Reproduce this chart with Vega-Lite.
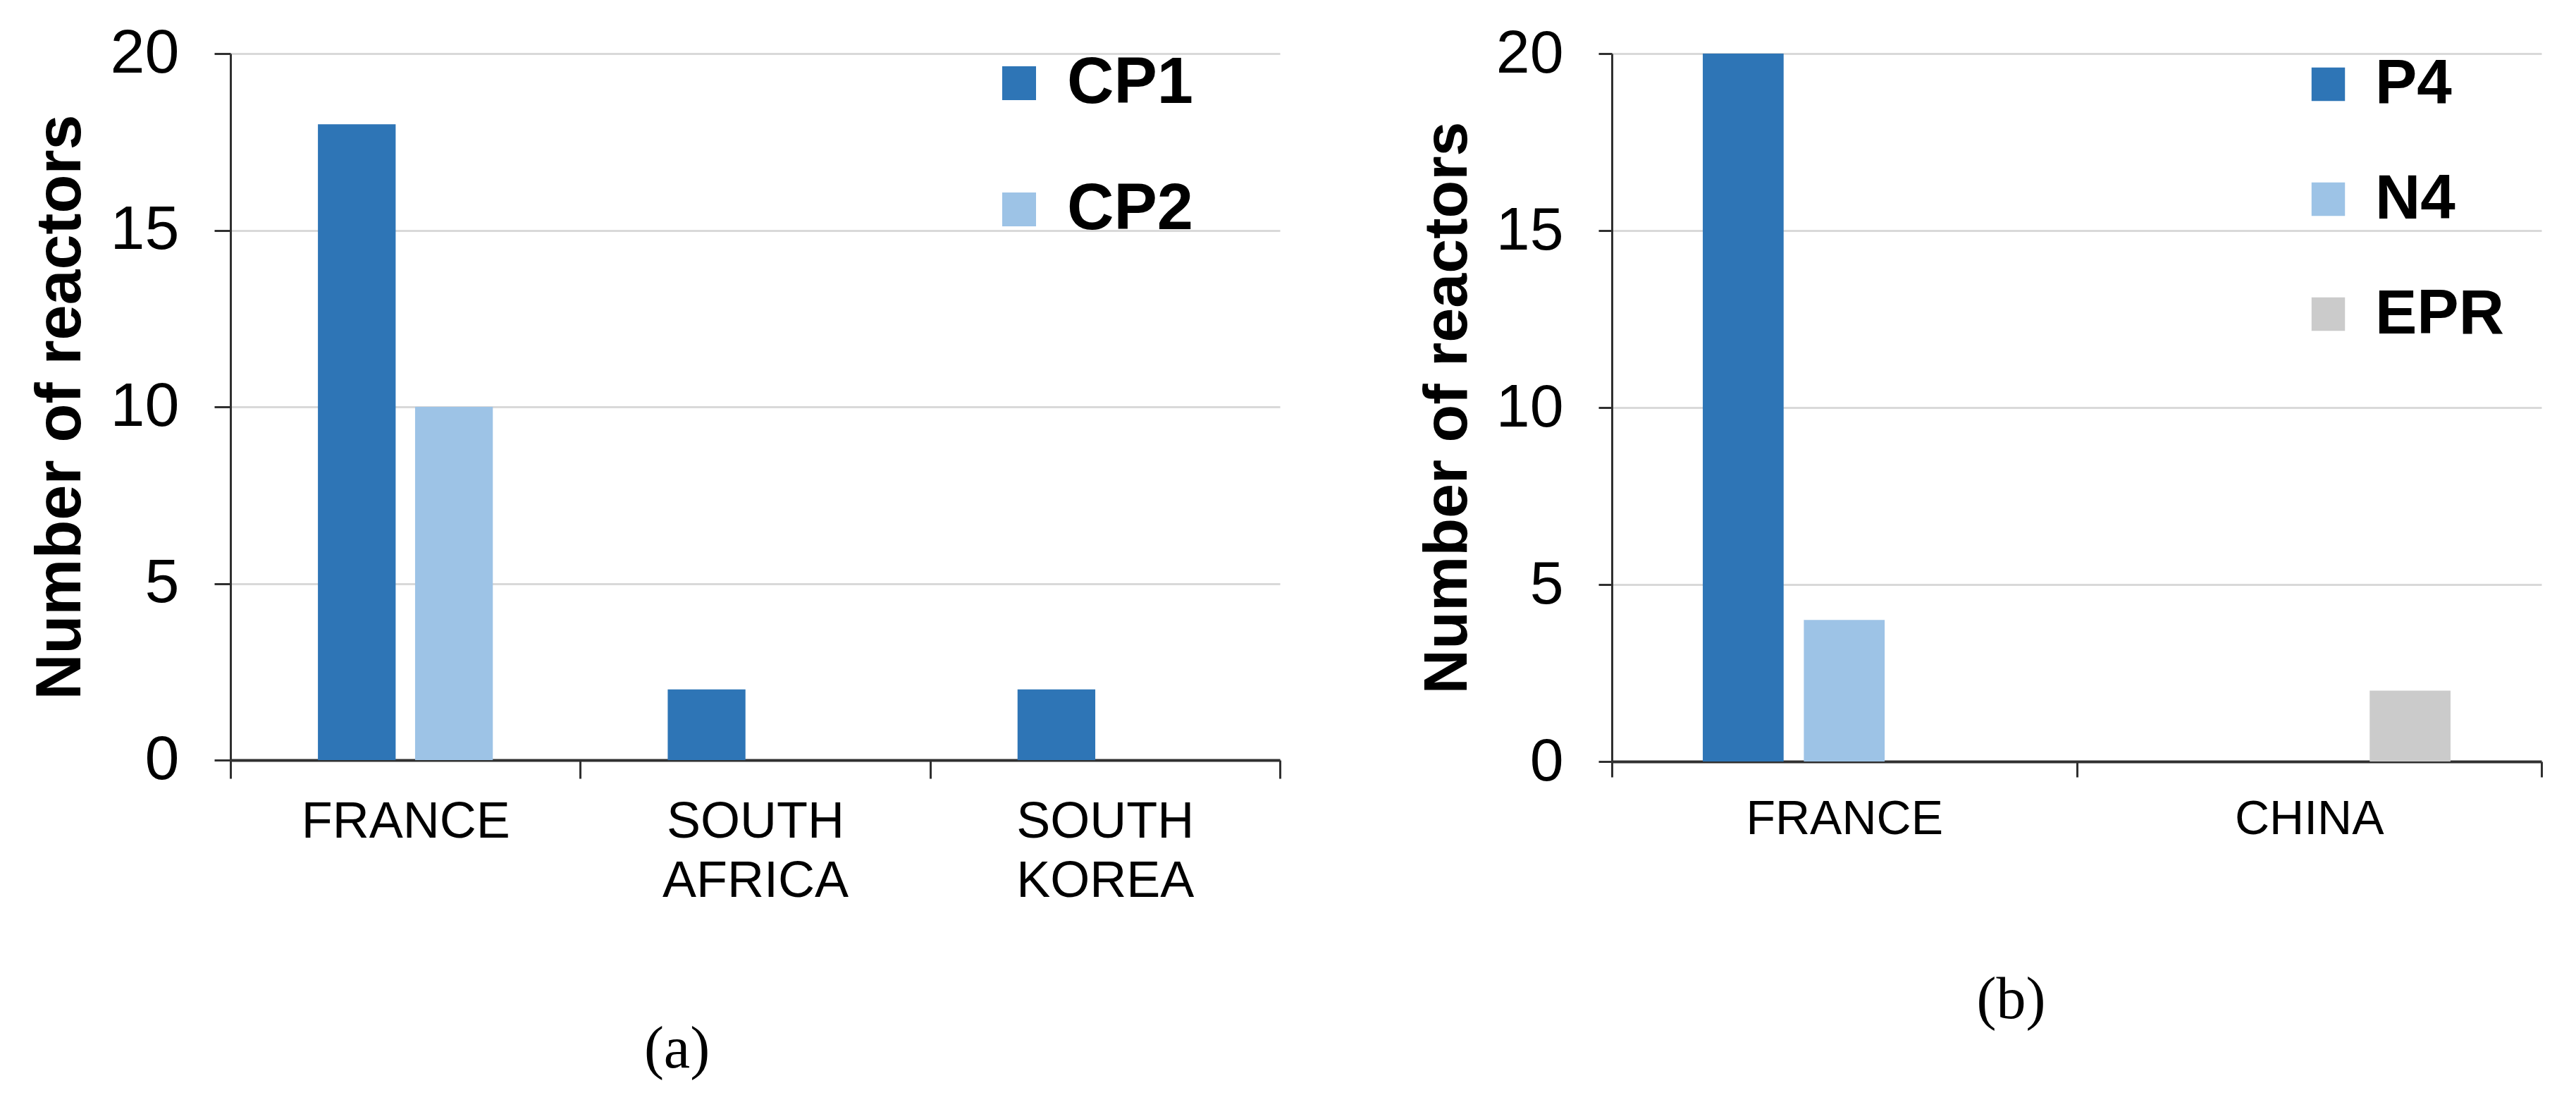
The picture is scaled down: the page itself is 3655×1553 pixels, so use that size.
{
  "$schema": "https://vega.github.io/schema/vega-lite/v6.json",
  "background": "white",
  "padding": {"left": 41, "top": 32, "right": 40, "bottom": 10},
  "spacing": 192,
  "config": {
    "view": {"stroke": null},
    "axis": {"labelLimit": 1000, "titleLimit": 2000, "labelColor": "black", "titleColor": "black", "tickColor": "#303030", "domainColor": "#303030"}
  },
  "hconcat": [
    {
      "width": 1489,
      "height": 1002,
      "data": {"values": [
        {"country": "FRANCE", "model": "CP1", "reactors": 18},
        {"country": "FRANCE", "model": "CP2", "reactors": 10},
        {"country": "SOUTH AFRICA", "model": "CP1", "reactors": 2},
        {"country": "SOUTH KOREA", "model": "CP1", "reactors": 2}
      ]},
      "mark": {"type": "bar"},
      "encoding": {
        "x": {
          "field": "country", "type": "nominal",
          "sort": ["FRANCE", "SOUTH AFRICA", "SOUTH KOREA"],
          "scale": {"domain": ["FRANCE", "SOUTH AFRICA", "SOUTH KOREA"], "paddingInner": 0, "paddingOuter": 0},
          "axis": {
            "title": "(a)", "titleFont": "Liberation Serif", "titleFontSize": 84, "titleFontWeight": "normal",
            "titleX": 633, "titleY": 410, "titleBaseline": "middle", "titleAlign": "center", "titleAngle": 0,
            "labelAngle": 0, "labelFont": "Liberation Sans", "labelFontSize": 72, "labelPadding": 26, "labelLineHeight": 84,
            "labelExpr": "split(datum.label, ' ')",
            "tickSize": 26, "tickWidth": 3, "tickBand": "extent",
            "domainWidth": 4, "grid": false
          }
        },
        "xOffset": {"field": "model", "type": "nominal", "sort": ["CP1", "CP2"], "scale": {"domain": ["CP1", "CP2"], "paddingInner": 0.2, "paddingOuter": 0.9}},
        "y": {
          "field": "reactors", "type": "quantitative",
          "scale": {"domain": [0, 20], "nice": false},
          "axis": {
            "title": "Number of reactors", "titleFont": "Liberation Sans", "titleFontWeight": "bold", "titleFontSize": 90, "titlePadding": 24,
            "values": [0, 5, 10, 15, 20], "labelFont": "Liberation Sans", "labelFontSize": 88, "labelPadding": 50, "labelFlush": false,
            "tickSize": 23, "tickWidth": 3, "domainWidth": 3,
            "grid": true, "gridColor": "#D9D9D9", "gridWidth": 3
          }
        },
        "color": {
          "field": "model", "type": "nominal",
          "scale": {"domain": ["CP1", "CP2"], "range": ["#2E75B6", "#9DC3E6"]},
          "legend": {
            "orient": "none", "legendX": 1073, "legendY": -4, "title": null, "padding": 0,
            "symbolType": "square", "symbolSize": 2304, "symbolStrokeWidth": 0, "symbolOpacity": 1,
            "labelFont": "Liberation Sans", "labelFontWeight": "bold", "labelFontSize": 92, "labelColor": "black",
            "labelOffset": 22, "labelLimit": 500, "rowPadding": 87
          }
        }
      }
    },
    {
      "width": 1319,
      "height": 1004,
      "data": {"values": [
        {"country": "FRANCE", "model": "P4", "reactors": 20},
        {"country": "FRANCE", "model": "N4", "reactors": 4},
        {"country": "CHINA", "model": "EPR", "reactors": 2}
      ]},
      "mark": {"type": "bar"},
      "encoding": {
        "x": {
          "field": "country", "type": "nominal",
          "sort": ["FRANCE", "CHINA"],
          "scale": {"domain": ["FRANCE", "CHINA"], "paddingInner": 0, "paddingOuter": 0},
          "axis": {
            "title": "(b)", "titleFont": "Liberation Serif", "titleFontSize": 84, "titleFontWeight": "normal",
            "titleX": 566, "titleY": 338, "titleBaseline": "middle", "titleAlign": "center", "titleAngle": 0,
            "labelAngle": 0, "labelFont": "Liberation Sans", "labelFontSize": 68, "labelPadding": 26,
            "tickSize": 22, "tickWidth": 3, "tickBand": "extent",
            "domainWidth": 4, "grid": false
          }
        },
        "xOffset": {"field": "model", "type": "nominal", "sort": ["P4", "N4", "EPR"], "scale": {"domain": ["P4", "N4", "EPR"], "paddingInner": 0.2, "paddingOuter": 0.9}},
        "y": {
          "field": "reactors", "type": "quantitative",
          "scale": {"domain": [0, 20], "nice": false},
          "axis": {
            "title": "Number of reactors", "titleFont": "Liberation Sans", "titleFontWeight": "bold", "titleFontSize": 88, "titlePadding": 24,
            "values": [0, 5, 10, 15, 20], "labelFont": "Liberation Sans", "labelFontSize": 86, "labelPadding": 50, "labelFlush": false,
            "tickSize": 19, "tickWidth": 3, "domainWidth": 3,
            "grid": true, "gridColor": "#D9D9D9", "gridWidth": 3
          }
        },
        "color": {
          "field": "model", "type": "nominal",
          "scale": {"domain": ["P4", "N4", "EPR"], "range": ["#2E75B6", "#9DC3E6", "#CBCBCB"]},
          "legend": {
            "orient": "none", "legendX": 972, "legendY": -1, "title": null, "padding": 0,
            "symbolType": "square", "symbolSize": 2250, "symbolStrokeWidth": 0, "symbolOpacity": 1,
            "labelFont": "Liberation Sans", "labelFontWeight": "bold", "labelFontSize": 89, "labelColor": "black",
            "labelOffset": 22, "labelLimit": 500, "rowPadding": 73
          }
        }
      }
    }
  ],
  "resolve": {
    "scale": {"color": "independent", "x": "independent", "y": "independent", "xOffset": "independent"},
    "legend": {"color": "independent"}
  }
}
